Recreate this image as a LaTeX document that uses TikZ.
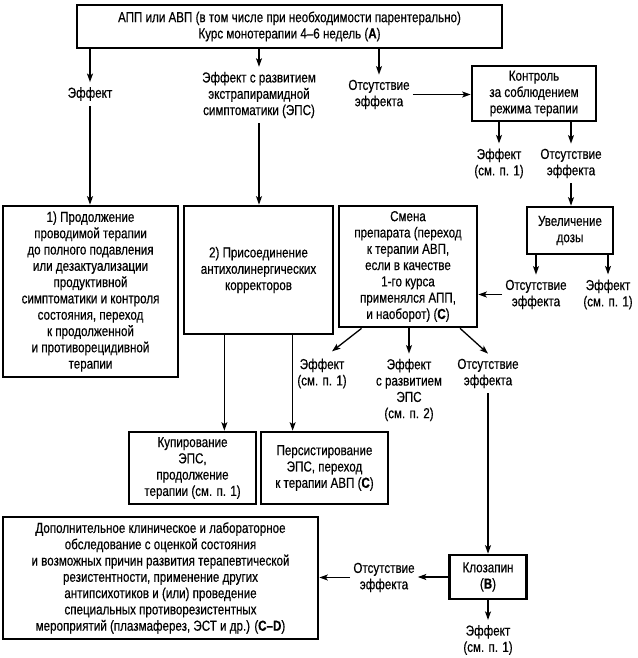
\documentclass[tikz,border=0pt]{standalone}
\usepackage{fontspec}
\setmainfont{Liberation Sans}[FakeStretch=0.8,FakeBold=0.4]
\usetikzlibrary{arrows.meta,calc}
\begin{document}
\begin{tikzpicture}[x=1pt,y=-1pt,
  every node/.style={font=\fontsize{14.5}{16.3}\selectfont, align=center},
  box/.style={draw, line width=2.7pt, inner sep=0pt},
  lbl/.style={inner xsep=3pt, inner ysep=5pt},
  arr/.style={line width=1.3pt, -{Stealth[length=8.5pt,width=6pt,inset=2pt]}},
  ln/.style={line width=1.3pt}]
\useasboundingbox (0,0) rectangle (637,658);
\fill[white] (0,0) rectangle (637,658);

% boxes
\node[box, minimum width=425pt, minimum height=43pt] (top) at (289.5,26.5)
  {АПП или АВП (в том числе при необходимости парентерально)\\Курс монотерапии 4–6 недель (\textbf{A})};
\node[box, minimum width=124pt, minimum height=55pt] (ctrl) at (534,93.5)
  {Контроль\\за соблюдением\\режима терапии};
\node[box, minimum width=86pt, minimum height=47pt] (incr) at (570,230.5)
  {Увеличение\\дозы};
\node[box, minimum width=175pt, minimum height=171pt] (box1) at (90.5,291.5)
  {1) Продолжение\\проводимой терапии\\до полного подавления\\или дезактуализации\\продуктивной\\симптоматики и контроля\\состояния, переход\\к продолженной\\и противорецидивной\\терапии};
\node[box, minimum width=149pt, minimum height=128pt] (box2) at (258.5,270)
  {2) Присоединение\\антихолинергических\\корректоров};
\node[box, minimum width=138pt, minimum height=121pt] (smena) at (408,266.5)
  {Смена\\препарата (переход\\к терапии АВП,\\если в качестве\\1-го курса\\применялся АПП,\\и наоборот) (\textbf{C})};
\node[box, minimum width=127pt, minimum height=72pt] (kup) at (192.5,468)
  {Купирование\\ЭПС,\\продолжение\\терапии (см. п. 1)};
\node[box, minimum width=127pt, minimum height=72pt] (pers) at (324.5,468)
  {Персистирование\\ЭПС, переход\\к терапии АВП (\textbf{C})};
\node[box, minimum width=315pt, minimum height=122pt] (big) at (160.5,578)
  {Дополнительное клиническое и лабораторное\\обследование с оценкой состояния\\и возможных причин развития терапевтической\\резистентности, применение других\\антипсихотиков и (или) проведение\\специальных противорезистентных\\мероприятий (плазмаферез, ЭСТ и др.) (\textbf{C–D})};
\node[box, minimum width=77pt, minimum height=44pt] (kloz) at (488,577)
  {Клозапин\\(\textbf{B})};

% labels
\node[lbl] (eff1) at (90,94) {Эффект};
\node[lbl] (eps) at (259,95) {Эффект с развитием\\экстрапирамидной\\симптоматики (ЭПС)};
\node[lbl] (abs1) at (379,94.5) {Отсутствие\\эффекта};
\node[lbl] (eff2) at (499,163.5) {Эффект\\(см. п. 1)};
\node[lbl] (abs2) at (571,163.5) {Отсутствие\\эффекта};
\node[lbl] (abs3) at (536,294.5) {Отсутствие\\эффекта};
\node[lbl] (eff3) at (608,294.5) {Эффект\\(см. п. 1)};
\node[lbl] (eff4) at (322,373.5) {Эффект\\(см. п. 1)};
\node[lbl] (eps4) at (409,390) {Эффект\\с развитием\\ЭПС\\(см. п. 2)};
\node[lbl] (abs4) at (488,373.5) {Отсутствие\\эффекта};
\node[lbl] (abs5) at (384,577.5) {Отсутствие\\эффекта};
\node[lbl] (eff5) at (488,640) {Эффект\\(см. п. 1)};

% helper coordinates on box borders
\coordinate (b2a) at ($(box2.south west)!0.275!(box2.south east)$);
\coordinate (b2b) at ($(box2.south west)!0.725!(box2.south east)$);
\coordinate (sma) at ($(smena.south west)!0.17!(smena.south east)$);
\coordinate (smb) at ($(smena.south west)!0.87!(smena.south east)$);
\coordinate (e4t) at ($(eff4.north)+(10,-2)$);

% connectors
\draw[arr] (top.south -| eff1) -- (eff1.north);
\draw[arr] (eff1.south) -- (eff1.south |- box1.north);
\draw[arr] (top.south -| eps) -- (eps.north);
\draw[arr] (eps.south) -- (eps.south |- box2.north);
\draw[arr] (top.south -| abs1) -- (abs1.north);
\draw[arr] (abs1.east) -- (abs1.east -| ctrl.west);
\draw[arr] (ctrl.south -| eff2) -- (eff2.north);
\draw[arr] (ctrl.south -| abs2) -- (abs2.north);
\draw[arr] (abs2.south) -- (abs2.south |- incr.north);
\draw[arr] (incr.south -| abs3) -- (abs3.north);
\draw[arr] (incr.south -| eff3) -- (eff3.north);
\draw[arr] (abs3.west) -- (abs3.west -| smena.east);
\draw[arr] (sma) -- (e4t);
\draw[arr] (smena.south -| eps4) -- (eps4.north);
\draw[arr] (smb) -- (abs4.north);
\draw[arr] (abs4.south) -- (kloz.north);
\draw[arr] (b2a) -- (b2a |- kup.north);
\draw[arr] (b2b) -- (b2b |- pers.north);
\draw[arr] (kloz.west) -- (kloz.west -| abs5.east);
\draw[arr] (abs5.west) -- (abs5.west -| big.east);
\draw[arr] (kloz.south) -- (eff5.north);
\end{tikzpicture}
\end{document}
